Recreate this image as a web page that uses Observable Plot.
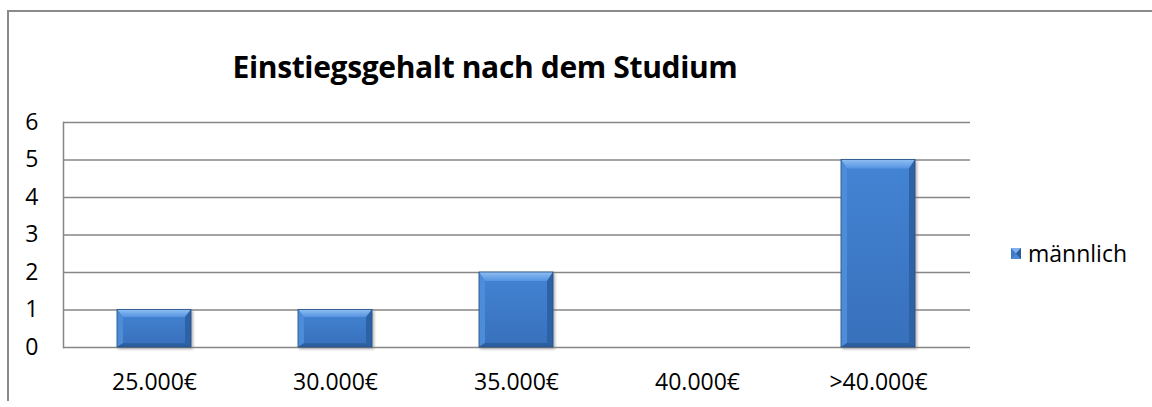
<!DOCTYPE html>
<html><head><meta charset="utf-8">
<script src="https://cdn.jsdelivr.net/npm/d3@7"></script>
<script src="https://cdn.jsdelivr.net/npm/@observablehq/plot@0.6"></script>
<style>
body{margin:0;background:#fff;font-family:"Open Sans",sans-serif;}
#wrap{position:relative;width:1152px;height:407px;overflow:hidden;background:#fff;}
#border{position:absolute;left:7px;top:10px;width:1200px;height:389px;border-top:2px solid #8a8a8a;border-left:2px solid #8a8a8a;}
#chart{position:absolute;left:0;top:0;}
#title{position:absolute;left:0;width:970px;top:46px;line-height:42px;text-align:center;font-weight:700;font-size:30px;letter-spacing:-0.35px;color:#000;}
#legend{position:absolute;left:1011px;top:238px;line-height:30px;font-size:23px;color:#000;display:flex;align-items:center;}
#legend svg{margin-right:7px;}
</style></head>
<body>
<div id="wrap">
  <div id="border"></div>
  <div id="chart"></div>
  <div id="title">Einstiegsgehalt nach dem Studium</div>
  <div id="legend"></div>
</div>
<script>
const categories = ["25.000€", "30.000€", "35.000€", "40.000€", ">40.000€"];
const values = [1, 1, 2, 0, 5];
const yTicks = [0, 1, 2, 3, 4, 5, 6];
const seriesName = "männlich";

const data = categories.map((c, i) => ({category: c, value: values[i]}));

const chart = Plot.plot({
  width: 1152, height: 407,
  marginLeft: 63, marginRight: 182, marginTop: 122, marginBottom: 60,
  style: {fontFamily: "Open Sans", fontSize: "23px", color: "#000", background: "transparent", overflow: "visible"},
  x: {domain: categories, paddingInner: 0.59, paddingOuter: 0.295, label: null, tickSize: 0, tickPadding: 26},
  y: {domain: [0, 6], ticks: yTicks, tickFormat: d => String(d), label: null, tickSize: 0, tickPadding: 25},
  marks: [
    Plot.ruleY(yTicks, {stroke: "#868686", strokeWidth: 1.5}),
    Plot.frame({anchor: "left", stroke: "#868686", strokeWidth: 1.5}),
    Plot.barY(data.filter(d => d.value > 0), {x: "category", y: "value", fill: "#3d7bca"})
  ]
});
document.getElementById("chart").appendChild(chart);

// bevel decoration derived from the rendered bar rects
const ns = "http://www.w3.org/2000/svg";
const svg = chart.tagName === "svg" ? chart : chart.querySelector("svg");
const defs = document.createElementNS(ns, "defs");
defs.innerHTML = `
<linearGradient id="gTop" x1="0" y1="0" x2="0" y2="1"><stop offset="0" stop-color="#8fbef3"/><stop offset="1" stop-color="#5594e0"/></linearGradient>
<linearGradient id="gBody" x1="0" y1="0" x2="0" y2="1"><stop offset="0" stop-color="#4384d4"/><stop offset="1" stop-color="#3870bb"/></linearGradient>
<filter id="sh" x="-20%" y="-20%" width="140%" height="140%"><feGaussianBlur stdDeviation="1.5"/></filter>`;
svg.insertBefore(defs, svg.firstChild);
svg.querySelectorAll('g[aria-label="bar"] rect').forEach(r => {
  const x = +r.getAttribute("x"), y = +r.getAttribute("y"), w = +r.getAttribute("width"), h = +r.getAttribute("height");
  const g = r.parentNode;
  const shadow = document.createElementNS(ns, "rect");
  shadow.setAttribute("x", x + 1); shadow.setAttribute("y", y + 1);
  shadow.setAttribute("width", w + 1); shadow.setAttribute("height", h + 1);
  shadow.setAttribute("fill", "#7a7a7a"); shadow.setAttribute("opacity", "0.6");
  shadow.setAttribute("filter", "url(#sh)");
  g.insertBefore(shadow, r);
  r.setAttribute("fill", "url(#gBody)");
  const bt = Math.min(9, h * 0.2), bs = Math.min(6, w * 0.1), bb = Math.min(4, h * 0.1);
  const polys = [
    [[x, y], [x + w, y], [x + w - bs, y + bt], [x + bs, y + bt], "url(#gTop)"],
    [[x, y], [x + bs, y + bt], [x + bs, y + h - bb], [x, y + h], "#4d8cd9"],
    [[x + w, y], [x + w - bs, y + bt], [x + w - bs, y + h - bb], [x + w, y + h], "#2e62a6"],
    [[x, y + h], [x + bs, y + h - bb], [x + w - bs, y + h - bb], [x + w, y + h], "#2c5f9f"]
  ];
  polys.forEach(p => {
    const el = document.createElementNS(ns, "polygon");
    el.setAttribute("points", p.slice(0, 4).map(q => q.join(",")).join(" "));
    el.setAttribute("fill", p[4]);
    g.appendChild(el);
  });
  const edge = document.createElementNS(ns, "rect");
  edge.setAttribute("x", x); edge.setAttribute("y", y);
  edge.setAttribute("width", w); edge.setAttribute("height", h);
  edge.setAttribute("fill", "none"); edge.setAttribute("stroke", "#244f86"); edge.setAttribute("stroke-width", "0.8");
  g.appendChild(edge);
});

// legend
const legend = document.getElementById("legend");
legend.innerHTML = `<svg width="10" height="11" viewBox="0 0 10 11">
<rect width="10" height="11" fill="#3d7bca"/>
<polygon points="0,0 10,0 5,5.5" fill="#7fb2ef"/>
<polygon points="0,11 10,11 5,5.5" fill="#4a88d6"/>
<polygon points="10,0 10,11 5,5.5" fill="#2b5c9c"/>
</svg><span>${seriesName}</span>`;
</script>
</body></html>
